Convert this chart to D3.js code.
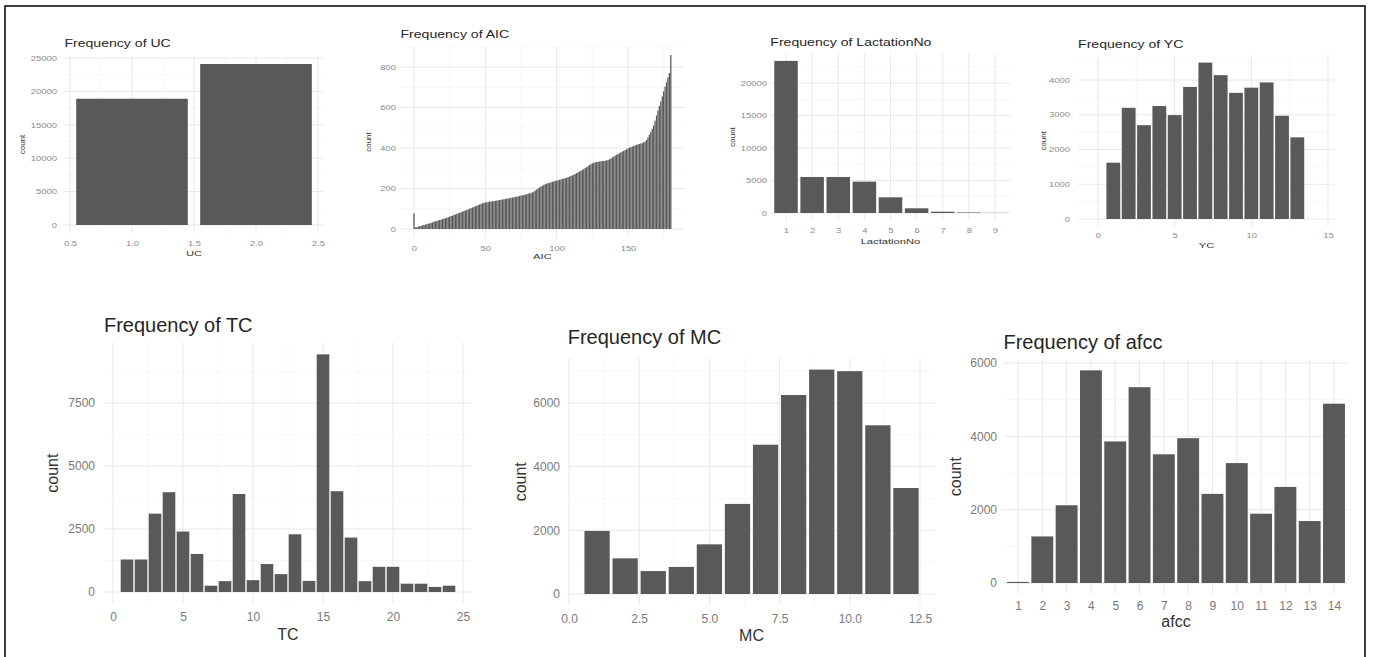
<!DOCTYPE html>
<html>
<head>
<meta charset="utf-8">
<script src="https://cdn.jsdelivr.net/npm/d3@7"></script>
<style>
  body { margin: 0; background: #fff; }
  svg { display: block; font-family: "Liberation Sans", Arial, sans-serif; }
</style>
</head>
<body>
<svg width="1373" height="657"></svg>
<script>
// counts (estimates)
const ucValues = [1, 2];
const ucCounts = [18900, 24100];
const ucXTicks = [0.5, 1, 1.5, 2, 2.5];
const ucYTicks = [0, 5000, 10000, 15000, 20000, 25000];

const aicValues = d3.range(0, 181);
const aicCounts = [
  77,
  8, 10, 12, 14, 16, 18, 20, 22, 24, 26,
  28, 30, 33, 36, 38, 40, 42, 44, 46, 49,
  51, 53, 56, 58, 61, 64, 66, 69, 72, 75,
  77, 80, 83, 86, 89, 92, 94, 97, 100, 103,
  106, 109, 112, 115, 118, 121, 124, 127, 129, 131,
  132, 134, 135, 136, 137, 138, 139, 140, 142, 143,
  144, 146, 147, 148, 150, 151, 152, 154, 155, 157,
  158, 160, 161, 163, 165, 166, 168, 170, 172, 174,
  176, 178, 181, 185, 190, 195, 200, 205, 210, 214,
  218, 221, 224, 226, 228, 231, 233, 235, 237, 239,
  241, 243, 245, 247, 249, 251, 253, 256, 259, 262,
  265, 268, 272, 276, 280, 284, 288, 292, 296, 301,
  306, 311, 316, 320, 324, 327, 329, 331, 332, 333,
  334, 335, 336, 337, 339, 341, 344, 348, 353, 358,
  362, 366, 370, 374, 378, 382, 386, 390, 394, 398,
  401, 404, 407, 410, 413, 416, 418, 420, 422, 424,
  428, 432, 440, 452, 466, 480, 495, 512, 535, 560,
  585, 608, 630, 655, 680, 703, 725, 748, 770, 859
];
const aicXTicks = [0, 50, 100, 150];
const aicYTicks = [0, 200, 400, 600, 800];

const lacValues = [1, 2, 3, 4, 5, 6, 7, 8, 9];
const lacCounts = [23400, 5540, 5540, 4820, 2410, 720, 200, 80, 20];
const lacYTicks = [0, 5000, 10000, 15000, 20000];

const ycValues = d3.range(1, 14);
const ycCounts = [1620, 3200, 2700, 3250, 2990, 3800, 4500, 4140, 3630, 3780, 3930, 2970, 2350];
const ycXTicks = [0, 5, 10, 15];
const ycYTicks = [0, 1000, 2000, 3000, 4000];

const tcValues = d3.range(1, 25);
const tcCounts = [1290, 1290, 3110, 3960, 2400, 1510, 250, 430, 3890, 470, 1110, 710,
                  2290, 440, 9430, 4000, 2160, 430, 1000, 1000, 330, 330, 200, 250];
const tcXTicks = [0, 5, 10, 15, 20, 25];
const tcYTicks = [0, 2500, 5000, 7500];

const mcValues = d3.range(1, 13);
const mcCounts = [1980, 1120, 720, 850, 1560, 2830, 4690, 6250, 7050, 7000, 5300, 3330];
const mcXTicks = [0, 2.5, 5, 7.5, 10, 12.5];
const mcYTicks = [0, 2000, 4000, 6000];

const afccValues = d3.range(1, 15);
const afccCounts = [30, 1270, 2120, 5800, 3860, 5340, 3510, 3950, 2430, 3270, 1890, 2620, 1690, 4890];
const afccYTicks = [0, 2000, 4000, 6000];

const svg = d3.select("svg");

// outer frame
svg.append("rect")
  .attr("x", 5).attr("y", 6)
  .attr("width", 1360).attr("height", 700)
  .attr("fill", "none").attr("stroke", "#000").attr("stroke-width", 1.5);

const small = { tick: 7, tickSx: 1.35, title: 11, titleSx: 1.28, axis: 8, axisSx: 1.4, count: 8, tickCol: "#8a8a8a" };
const big = { tick: 12, tickSx: 1, title: 20, titleSx: 1, axis: 16, axisSx: 1, count: 16, tickCol: "#7a7a7a" };

const panels = [
  { title: "Frequency of UC", xLab: "UC", xs: ucValues, ys: ucCounts, xTicks: ucXTicks, yTicks: ucYTicks,
    xFmt: d3.format(".1f"), st: small,
    xCal: [0.5, 70, 2.5, 318], yCal: [0, 225, 25000, 58],
    xTickBase: 246, yLabRight: 57, xTitleBase: 256, yTitleX: 22, titleBase: 47 },
  { title: "Frequency of AIC", xLab: "AIC", xs: aicValues, ys: aicCounts, xTicks: aicXTicks, yTicks: aicYTicks,
    st: small,
    xCal: [0, 414, 150, 628], yCal: [0, 229, 800, 67],
    xTickBase: 251, yLabRight: 396, xTitleBase: 259, yTitleX: 368, titleBase: 38 },
  { title: "Frequency of LactationNo", xLab: "LactationNo", xs: lacValues, ys: lacCounts, xTicks: lacValues, yTicks: lacYTicks,
    st: small, discrete: true,
    xCal: [1, 786, 9, 995], yCal: [0, 213, 20000, 83],
    xTickBase: 233, yLabRight: 767, xTitleBase: 244, yTitleX: 732, titleBase: 46 },
  { title: "Frequency of YC", xLab: "YC", xs: ycValues, ys: ycCounts, xTicks: ycXTicks, yTicks: ycYTicks,
    st: small, xExt: [-1.3, 15.45],
    xCal: [0, 1098, 15, 1328], yCal: [0, 219, 4000, 80],
    xTickBase: 238, yLabRight: 1070, xTitleBase: 248, yTitleX: 1043, titleBase: 48 },
  { title: "Frequency of TC", xLab: "TC", xs: tcValues, ys: tcCounts, xTicks: tcXTicks, yTicks: tcYTicks,
    st: big,
    xCal: [0, 113, 25, 463], yCal: [0, 592, 7500, 403],
    xTickBase: 621, yLabRight: 95, xTitleBase: 640, yTitleX: 52, titleBase: 332 },
  { title: "Frequency of MC", xLab: "MC", xs: mcValues, ys: mcCounts, xTicks: mcXTicks, yTicks: mcYTicks,
    xFmt: d3.format(".1f"), st: big,
    xCal: [0, 569, 12.5, 920], yCal: [0, 594, 6000, 403],
    xTickBase: 623, yLabRight: 560, xTitleBase: 641, yTitleX: 520, titleBase: 344 },
  { title: "Frequency of afcc", xLab: "afcc", xs: afccValues, ys: afccCounts, xTicks: afccValues, yTicks: afccYTicks,
    st: big, discrete: true,
    xCal: [1, 1018, 14, 1334], yCal: [0, 583, 6000, 363],
    xTickBase: 610, yLabRight: 997, xTitleBase: 627, yTitleX: 955, titleBase: 349 }
];

function minorBreaks(ticks, ext) {
  const s = ticks[1] - ticks[0];
  const out = [];
  for (let v = ticks[0] - s / 2; v <= ticks[ticks.length - 1] + s / 2 + 1e-9; v += s) {
    if (v >= ext[0] && v <= ext[1]) out.push(v);
  }
  return out;
}

function drawPanel(p) {
  const st = p.st;
  const x = d3.scaleLinear().domain([p.xCal[0], p.xCal[2]]).range([p.xCal[1], p.xCal[3]]);
  const y = d3.scaleLinear().domain([p.yCal[0], p.yCal[2]]).range([p.yCal[1], p.yCal[3]]);

  const lo = d3.min(p.xs), hi = d3.max(p.xs);
  let xExt;
  if (p.xExt) xExt = p.xExt;
  else if (p.discrete) xExt = [lo - 0.6, hi + 0.6];
  else {
    const a = lo - 0.45, b = hi + 0.45, e = (b - a) * 0.05;
    xExt = [a - e, b + e];
  }
  const yMax = d3.max(p.ys);
  const yExt = [-0.05 * yMax, 1.05 * yMax];
  const L = x(xExt[0]), R = x(xExt[1]), T = y(yExt[1]), B = y(yExt[0]);

  const g = svg.append("g");

  // grid
  const grid = g.append("g");
  grid.selectAll(".ymin").data(minorBreaks(p.yTicks, yExt)).join("line")
    .attr("x1", L).attr("x2", R).attr("y1", d => y(d)).attr("y2", d => y(d))
    .attr("stroke", "#f2f2f2").attr("stroke-width", 0.6);
  if (!p.discrete) {
    grid.selectAll(".xmin").data(minorBreaks(p.xTicks, xExt)).join("line")
      .attr("y1", T).attr("y2", B).attr("x1", d => x(d)).attr("x2", d => x(d))
      .attr("stroke", "#f2f2f2").attr("stroke-width", 0.6);
  }
  grid.selectAll(".ymaj").data(p.yTicks.filter(v => v <= yExt[1])).join("line")
    .attr("x1", L).attr("x2", R).attr("y1", d => y(d)).attr("y2", d => y(d))
    .attr("stroke", "#e8e8e8").attr("stroke-width", 1);
  grid.selectAll(".xmaj").data(p.xTicks.filter(v => v >= xExt[0] && v <= xExt[1])).join("line")
    .attr("y1", T).attr("y2", B).attr("x1", d => x(d)).attr("x2", d => x(d))
    .attr("stroke", "#e8e8e8").attr("stroke-width", 1);

  // bars
  const data = p.xs.map((v, i) => ({ v, n: p.ys[i] }));
  g.append("g").selectAll("rect").data(data).join("rect")
    .attr("x", d => x(d.v - 0.45))
    .attr("width", x(0.9) - x(0))
    .attr("y", d => y(d.n))
    .attr("height", d => y(0) - y(d.n))
    .attr("fill", "#595959");

  // axes
  const xAxis = d3.axisBottom(x).tickValues(p.xTicks).tickSize(0).tickPadding(0)
    .tickFormat(p.xFmt || d3.format("d"));
  g.append("g")
    .attr("transform", `translate(0,${p.xTickBase - 0.71 * st.tick})`)
    .call(xAxis)
    .call(a => a.select(".domain").remove())
    .call(a => a.selectAll("text")
      .attr("font-size", st.tick).attr("fill", st.tickCol)
      .attr("transform", `scale(${st.tickSx},1)`));

  const yAxis = d3.axisLeft(y).tickValues(p.yTicks).tickSize(0).tickPadding(0).tickFormat(d3.format("d"));
  g.append("g")
    .attr("transform", `translate(${p.yLabRight},0)`)
    .call(yAxis)
    .call(a => a.select(".domain").remove())
    .call(a => a.selectAll("text")
      .attr("font-size", st.tick).attr("fill", st.tickCol)
      .attr("transform", `scale(${st.tickSx},1)`));
  g.selectAll("g").attr("font-family", null);

  // titles
  g.append("text")
    .attr("transform", `translate(${L},${p.titleBase}) scale(${st.titleSx},1)`)
    .attr("font-size", st.title).attr("fill", "#262626")
    .text(p.title);

  g.append("text")
    .attr("transform", `translate(${(L + R) / 2},${p.xTitleBase}) scale(${st.axisSx},1)`)
    .attr("text-anchor", "middle")
    .attr("font-size", st.axis).attr("fill", "#333")
    .text(p.xLab);

  g.append("text")
    .attr("transform", `translate(${p.yTitleX},${(T + B) / 2}) rotate(-90)`)
    .attr("text-anchor", "middle").attr("dy", "0.35em")
    .attr("font-size", st.count).attr("fill", "#333")
    .text("count");
}

panels.forEach(drawPanel);
</script>
</body>
</html>
